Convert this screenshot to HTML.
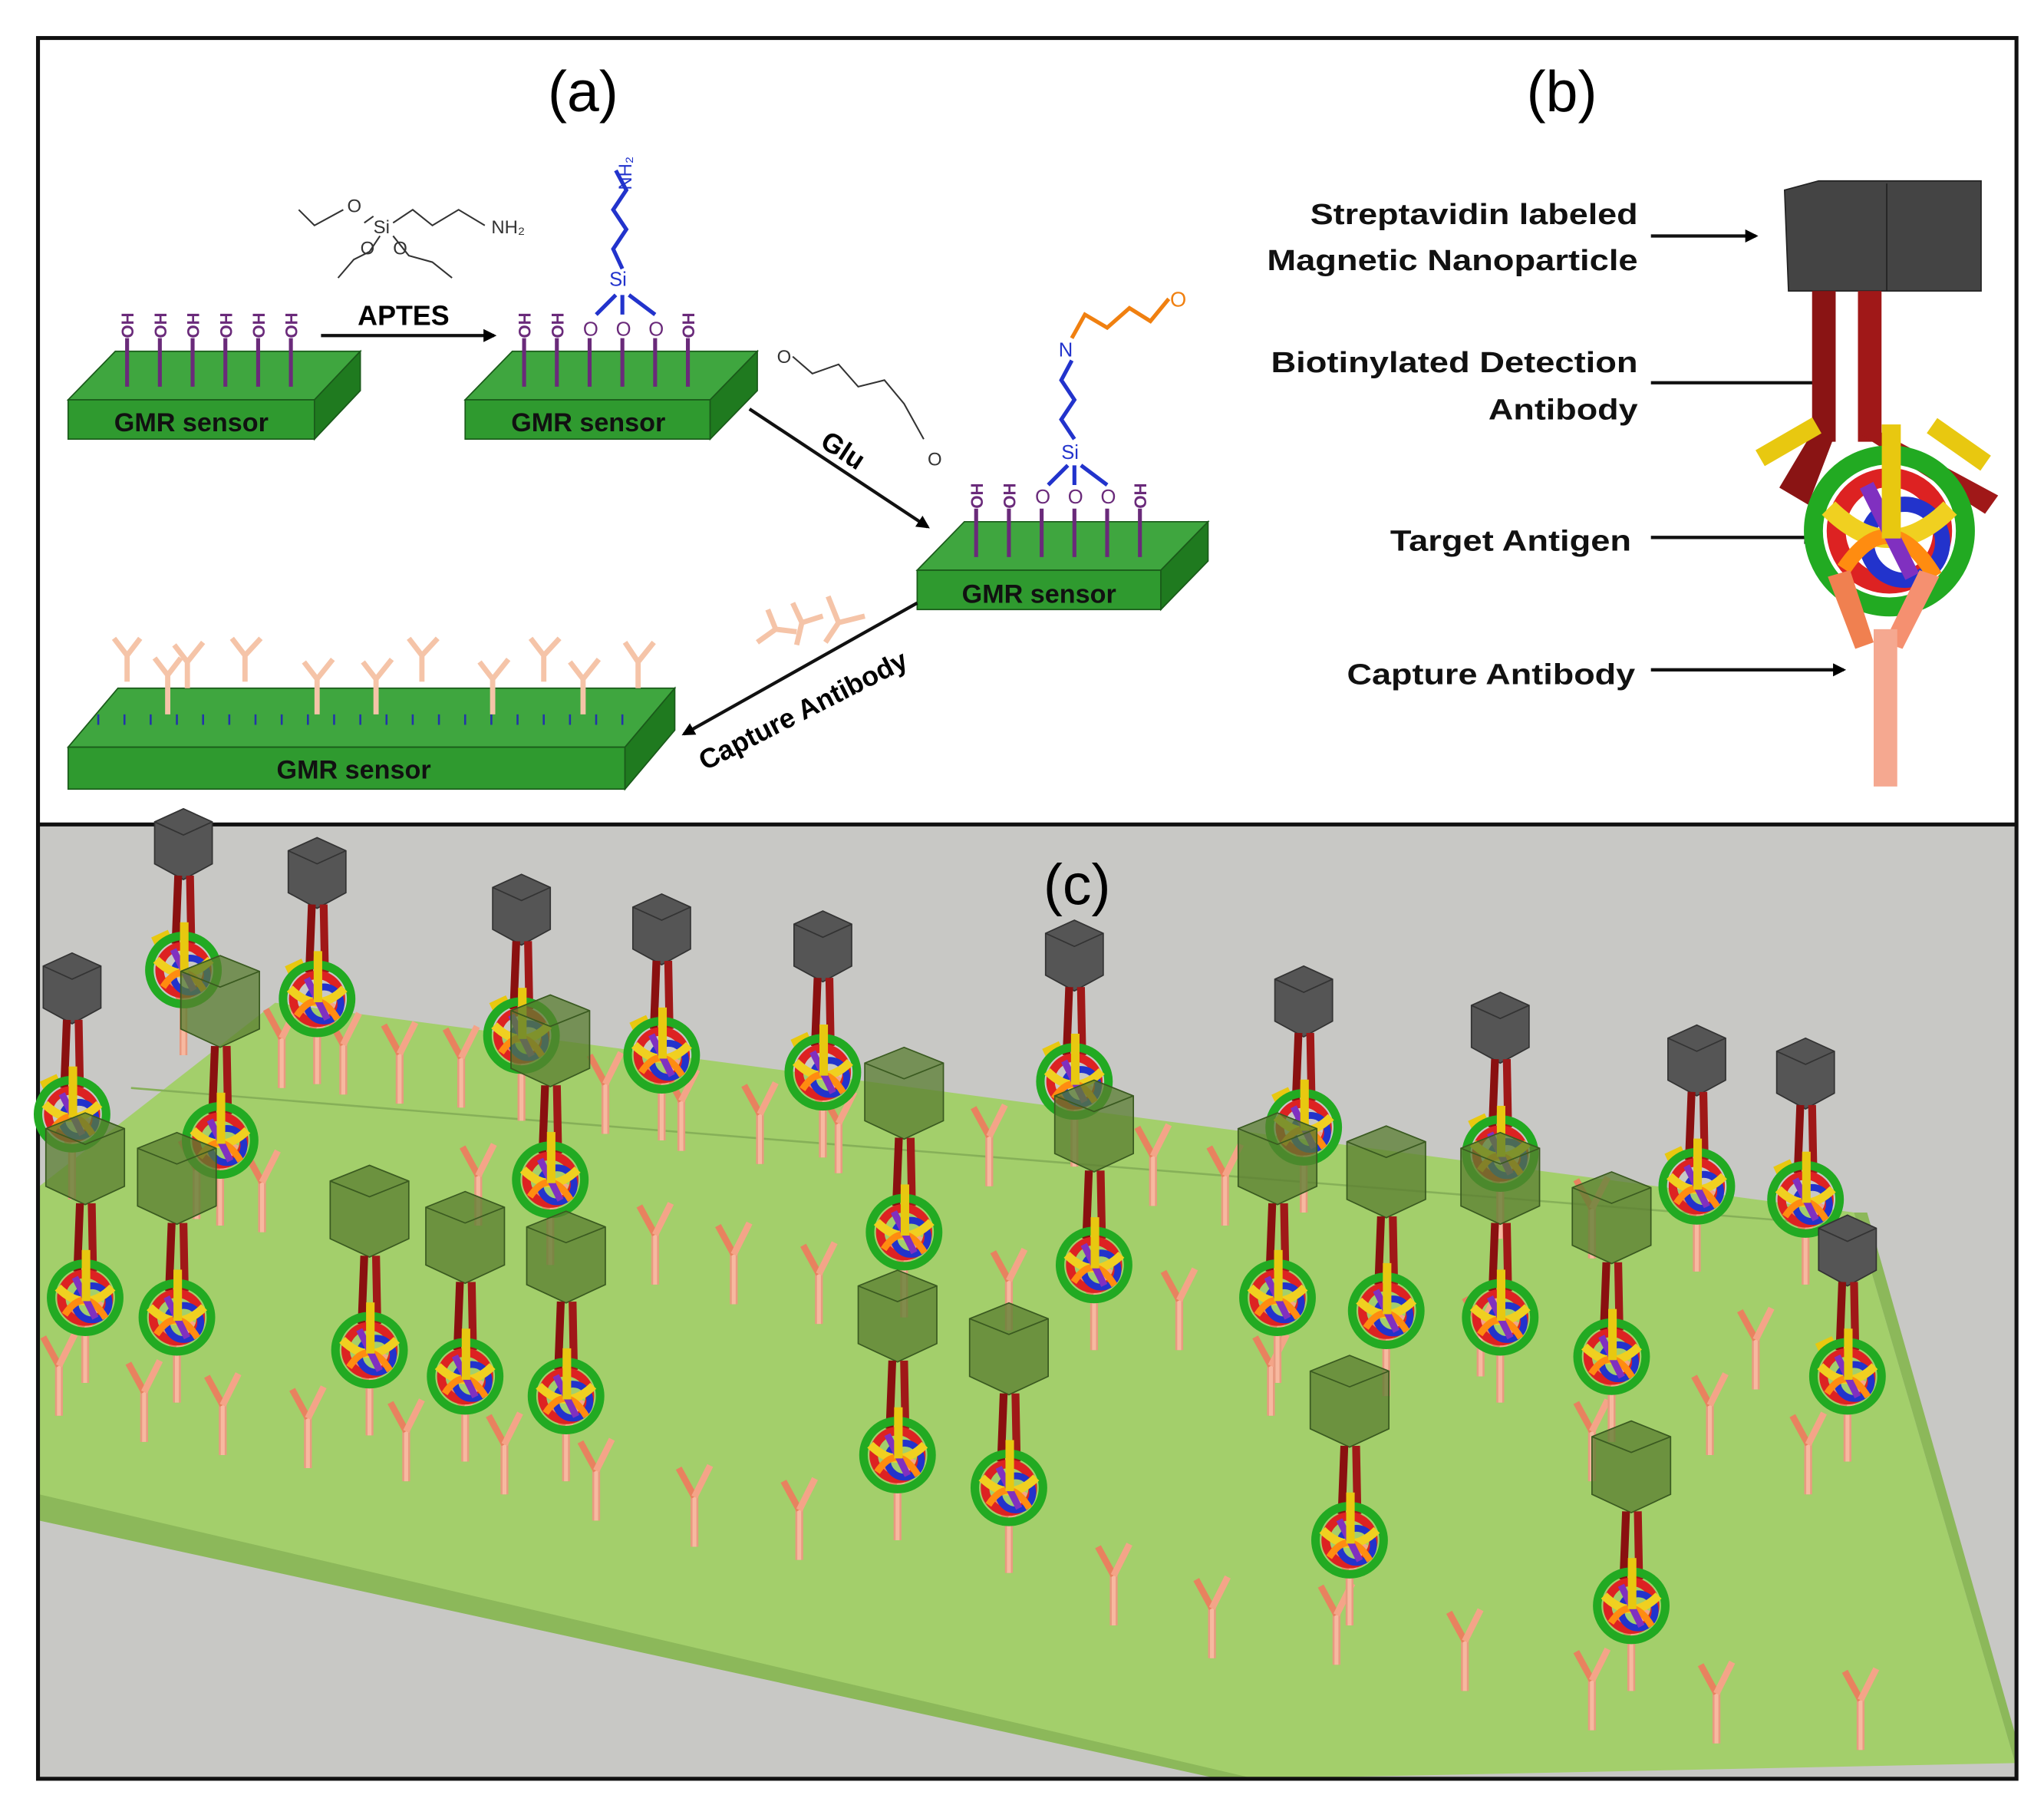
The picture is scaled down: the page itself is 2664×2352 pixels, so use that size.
<!DOCTYPE html>
<html><head><meta charset="utf-8"><style>
html,body{margin:0;padding:0;background:#fff}
svg{display:block}
text{font-family:"Liberation Sans",sans-serif}
</style></head><body>
<svg width="2664" height="2352" viewBox="0 0 1560 1377" preserveAspectRatio="none" xmlns="http://www.w3.org/2000/svg">
<defs>
<marker id="ar" markerWidth="10" markerHeight="10" refX="8" refY="5" orient="auto" markerUnits="userSpaceOnUse"><path d="M0,0 L10,5 L0,10 z" fill="#000"/></marker>
<g id="ab">
 <line x1="0" y1="0" x2="0" y2="-40" stroke="#e89a80" stroke-width="6"/>
 <line x1="0" y1="0" x2="0" y2="-40" stroke="#f7b9a0" stroke-width="3"/>
 <line x1="0" y1="-38" x2="-12" y2="-60" stroke="#e8825f" stroke-width="5"/>
 <line x1="0" y1="-38" x2="12" y2="-62" stroke="#f4a488" stroke-width="5"/>
</g>
<g id="ball">
 <circle r="20" fill="none" stroke="#22aa22" stroke-width="5"/>
 <circle r="14" fill="none" stroke="#dd2222" stroke-width="5"/>
 <circle cx="4" cy="3" r="10" fill="none" stroke="#2233cc" stroke-width="4"/>
 <path d="M-16,-6 Q0,10 16,-6" fill="none" stroke="#f0d020" stroke-width="5"/>
 <path d="M-12,10 Q0,-8 12,12" fill="none" stroke="#ff8c10" stroke-width="4"/>
 <line x1="-6" y1="-12" x2="6" y2="12" stroke="#8030c0" stroke-width="4"/>
 <rect x="-2" y="-28" width="5" height="30" fill="#e8c810"/>
</g>
<g id="cube">
 <polygon points="-22,-18 0,-28 22,-18 22,14 0,26 -22,14" fill="#555" stroke="#333" stroke-width="1"/>
 <polyline points="-22,-18 0,-8 22,-18 M0,-8 0,26" fill="none" stroke="#333"/>
</g>
<g id="gcube">
 <polygon points="-30,-24 0,-36 30,-24 30,20 0,34 -30,20" fill="#5a7d30" fill-opacity="0.75" stroke="#3a5a20"/>
 <polyline points="-30,-24 0,-12 30,-24 M0,-12 0,34" fill="none" stroke="#3a5a20"/>
</g>
<g id="cx">
 <use href="#cube" y="-95"/>
 <line x1="-4" y1="-72" x2="-6" y2="-20" stroke="#8a1010" stroke-width="6"/>
 <line x1="5" y1="-72" x2="6" y2="-20" stroke="#a01818" stroke-width="6"/>
 <rect x="-24" y="-28" width="14" height="7" fill="#e8c810" transform="rotate(-25 -17 -25)"/>
 <use href="#ab" y="65"/>
 <use href="#ball" transform="scale(1.3)"/>
</g>
<g id="cxg">
 <use href="#gcube" y="-105"/>
 <line x1="-4" y1="-72" x2="-6" y2="-20" stroke="#8a1010" stroke-width="6"/>
 <line x1="5" y1="-72" x2="6" y2="-20" stroke="#a01818" stroke-width="6"/>
 <use href="#ab" y="65"/>
 <use href="#ball" transform="scale(1.3)"/>
</g>
</defs>

<rect x="0" y="0" width="1560" height="1377" fill="#fff"/>
<rect x="29" y="630" width="1510" height="727" fill="#c8c8c5"/>
<polygon points="30,905 210,765 1415,925 1538,1345 958,1357 30,1160" fill="#a3cf6b"/>
<polygon points="30,1140 958,1357 930,1357 30,1160" fill="#8cb85a"/>
<polygon points="1415,925 1425,925 1540,1330 1538,1345" fill="#8cb85a"/>
<line x1="100" y1="830" x2="1410" y2="935" stroke="#86b058" stroke-width="1.5"/>

<rect x="29" y="29" width="1510" height="1328" fill="none" stroke="#111" stroke-width="3"/>
<line x1="29" y1="629" x2="1539" y2="629" stroke="#111" stroke-width="3"/>

<text x="445" y="85" font-size="44" text-anchor="middle">(a)</text>
<text x="1192" y="85" font-size="44" text-anchor="middle">(b)</text>
<text x="822" y="690" font-size="44" text-anchor="middle">(c)</text>

<g stroke="#1a5a1a" stroke-width="1">
 <polygon points="52,305 88,268 275,268 240,305" fill="#3fa63f"/>
 <rect x="52" y="305" width="188" height="30" fill="#2f9a2f"/>
 <polygon points="240,305 275,268 275,298 240,335" fill="#1f7a1f"/>
 <polygon points="355,305 391,268 578,268 542,305" fill="#3fa63f"/>
 <rect x="355" y="305" width="187" height="30" fill="#2f9a2f"/>
 <polygon points="542,305 578,268 578,298 542,335" fill="#1f7a1f"/>
 <polygon points="700,435 736,398 922,398 886,435" fill="#3fa63f"/>
 <rect x="700" y="435" width="186" height="30" fill="#2f9a2f"/>
 <polygon points="886,435 922,398 922,428 886,465" fill="#1f7a1f"/>
 <polygon points="52,570 90,525 515,525 477,570" fill="#3fa63f"/>
 <rect x="52" y="570" width="425" height="32" fill="#2f9a2f"/>
 <polygon points="477,570 515,525 515,557 477,602" fill="#1f7a1f"/>
</g>
<g font-size="20" font-weight="bold" fill="#111" text-anchor="middle">
 <text x="146" y="329">GMR sensor</text>
 <text x="449" y="329">GMR sensor</text>
 <text x="793" y="460">GMR sensor</text>
 <text x="270" y="594">GMR sensor</text>
</g>
<g stroke="#6a2a7a" stroke-width="3">
 <path d="M97,258V295 M122,258V295 M147,258V295 M172,258V295 M197,258V295 M222,258V295"/>
 <path d="M400,258V295 M425,258V295 M450,258V295 M475,258V295 M500,258V295 M525,258V295"/>
 <path d="M745,388V425 M770,388V425 M795,388V425 M820,388V425 M845,388V425 M870,388V425"/>
</g>
<g font-size="13" fill="#6a2a7a" font-weight="bold">
 <text transform="translate(102,258) rotate(-90)">OH</text>
 <text transform="translate(127,258) rotate(-90)">OH</text>
 <text transform="translate(152,258) rotate(-90)">OH</text>
 <text transform="translate(177,258) rotate(-90)">OH</text>
 <text transform="translate(202,258) rotate(-90)">OH</text>
 <text transform="translate(227,258) rotate(-90)">OH</text>
 <text transform="translate(405,258) rotate(-90)">OH</text>
 <text transform="translate(430,258) rotate(-90)">OH</text>
 <text transform="translate(530,258) rotate(-90)">OH</text>
 <text transform="translate(750,388) rotate(-90)">OH</text>
 <text transform="translate(775,388) rotate(-90)">OH</text>
 <text transform="translate(875,388) rotate(-90)">OH</text>
</g>
<g font-size="15" fill="#6a2a7a"><text x="445" y="256">O</text><text x="470" y="256">O</text><text x="495" y="256">O</text>
<text x="790" y="384">O</text><text x="815" y="384">O</text><text x="840" y="384">O</text></g>
<g stroke="#2233cc" stroke-width="3" fill="none">
 <path d="M470,225 L455,240 M475,225 L475,240 M480,225 L500,240"/>
 <path d="M475,205 L468,190 L478,175 L468,160 L478,145 L470,130"/>
 <path d="M815,355 L800,370 M820,355 L820,370 M825,355 L845,370"/>
 <path d="M820,335 L810,320 L820,305 L810,290 L818,275"/>
</g>
<text x="465" y="218" font-size="15" fill="#2233cc">Si</text>
<text x="810" y="350" font-size="15" fill="#2233cc">Si</text>
<text transform="translate(482,145) rotate(-90)" font-size="14" fill="#2233cc">NH₂</text>
<text x="808" y="272" font-size="15" fill="#2233cc">N</text>
<path d="M818,258 L828,240 L845,250 L862,235 L878,245 L892,228" stroke="#f08010" stroke-width="3" fill="none"/>
<text x="893" y="234" font-size="16" fill="#f08010">O</text>
<g stroke="#333" stroke-width="1.2" fill="none">
 <path d="M228,160 L240,172 L262,160 M278,170 L285,165 M300,170 L315,160 L330,172 L350,160 L370,172 M290,180 L282,192 L270,198 L258,212 M300,180 L312,195 L330,200 L345,212"/>
</g>
<text x="265" y="162" font-size="14" fill="#333">O</text>
<text x="285" y="178" font-size="14" fill="#333">Si</text>
<text x="275" y="194" font-size="14" fill="#333">O</text>
<text x="300" y="194" font-size="14" fill="#333">O</text>
<text x="375" y="178" font-size="14" fill="#333">NH₂</text>
<path d="M605,272 L620,285 L640,278 L655,295 L675,290 L690,308 L705,335" stroke="#333" stroke-width="1.2" fill="none"/>
<text x="593" y="277" font-size="14" fill="#333">O</text>
<text x="708" y="355" font-size="14" fill="#333">O</text>
<g stroke="#111" stroke-width="2.5" fill="none" marker-end="url(#ar)">
 <line x1="245" y1="256" x2="377" y2="256"/>
 <line x1="572" y1="312" x2="708" y2="402"/>
 <line x1="700" y1="460" x2="522" y2="560"/>
</g>
<text x="308" y="248" font-size="21" font-weight="bold" text-anchor="middle">APTES</text>
<text transform="translate(625,340) rotate(33)" font-size="21" font-weight="bold">Glu</text>
<text transform="translate(538,588) rotate(-27)" font-size="21" font-weight="bold">Capture Antibody</text>
<g stroke="#2233aa" stroke-width="1.5">
 <path d="M75,545v8 M95,545v8 M115,545v8 M135,545v8 M155,545v8 M175,545v8 M195,545v8 M215,545v8 M235,545v8 M255,545v8 M275,545v8 M295,545v8 M315,545v8 M335,545v8 M355,545v8 M375,545v8 M395,545v8 M415,545v8 M435,545v8 M455,545v8 M475,545v8"/>
</g>
<g stroke="#f5c4a8" stroke-width="4" fill="none">
 <path d="M97,520V500L87,487M97,500L107,487"/>
 <path d="M128,545V515L118,502M128,515L138,502"/>
 <path d="M143,525V505L133,492M143,505L155,490"/>
 <path d="M187,520V500L177,487M187,500L199,487"/>
 <path d="M242,545V518L232,505M242,518L254,503"/>
 <path d="M287,545V518L277,505M287,518L299,503"/>
 <path d="M322,520V500L312,487M322,500L334,487"/>
 <path d="M376,545V518L366,505M376,518L388,503"/>
 <path d="M415,520V500L405,487M415,500L427,487"/>
 <path d="M445,545V518L435,505M445,518L457,503"/>
 <path d="M487,525V505L477,490M487,505L499,490"/>
 <path d="M578,490L592,480L586,465M592,480L608,482"/>
 <path d="M605,460L612,475L628,470M612,475L608,492"/>
 <path d="M630,490L640,475L632,455M640,475L660,470"/>
</g>

<g font-size="22" font-weight="bold" fill="#111" text-anchor="end">
 <text x="1250" y="171" textLength="250" lengthAdjust="spacingAndGlyphs">Streptavidin labeled</text>
 <text x="1250" y="206" textLength="283" lengthAdjust="spacingAndGlyphs">Magnetic Nanoparticle</text>
 <text x="1250" y="284" textLength="280" lengthAdjust="spacingAndGlyphs">Biotinylated Detection</text>
 <text x="1250" y="320" textLength="114" lengthAdjust="spacingAndGlyphs">Antibody</text>
 <text x="1245" y="420" textLength="184" lengthAdjust="spacingAndGlyphs">Target Antigen</text>
 <text x="1248" y="522" textLength="220" lengthAdjust="spacingAndGlyphs">Capture Antibody</text>
</g>
<g stroke="#111" stroke-width="2.5" marker-end="url(#ar)">
 <line x1="1260" y1="180" x2="1340" y2="180"/>
 <line x1="1260" y1="292" x2="1392" y2="292"/>
 <line x1="1260" y1="410" x2="1385" y2="410"/>
 <line x1="1260" y1="511" x2="1407" y2="511"/>
</g>
<polygon points="1362,145 1388,138 1512,138 1512,222 1365,222" fill="#444" stroke="#222"/>
<line x1="1440" y1="140" x2="1440" y2="222" stroke="#222"/>
<rect x="1383" y="222" width="18" height="115" fill="#8a1414"/>
<rect x="1418" y="222" width="18" height="115" fill="#a01818"/>
<polygon points="1383,330 1401,330 1380,385 1358,372" fill="#8a1414"/>
<polygon points="1418,330 1436,330 1525,378 1515,392" fill="#a01818"/>
<rect x="1340" y="330" width="50" height="14" fill="#e8c810" transform="rotate(-30 1365 337)"/>
<rect x="1470" y="332" width="50" height="14" fill="#e8c810" transform="rotate(35 1495 339)"/>
<g transform="translate(1442,405) scale(2.9)"><use href="#ball"/></g>
<polygon points="1395,440 1412,435 1430,490 1416,495" fill="#f08050"/>
<polygon points="1480,440 1465,435 1438,490 1452,495" fill="#f59070"/>
<rect x="1430" y="480" width="18" height="120" fill="#f5a890"/>

<g>
 <use href="#ab" x="215" y="830"/><use href="#ab" x="262" y="835"/><use href="#ab" x="305" y="842"/>
 <use href="#ab" x="352" y="845"/><use href="#ab" x="462" y="865"/><use href="#ab" x="520" y="878"/>
 <use href="#ab" x="580" y="888"/><use href="#ab" x="640" y="895"/><use href="#ab" x="755" y="905"/>
 <use href="#ab" x="880" y="920"/><use href="#ab" x="935" y="935"/><use href="#ab" x="1215" y="960"/>
 <use href="#ab" x="150" y="930"/><use href="#ab" x="200" y="940"/><use href="#ab" x="365" y="935"/>
 <use href="#ab" x="500" y="980"/><use href="#ab" x="560" y="995"/><use href="#ab" x="625" y="1010"/>
 <use href="#ab" x="770" y="1015"/><use href="#ab" x="900" y="1030"/><use href="#ab" x="1130" y="1050"/>
 <use href="#ab" x="1340" y="1060"/>
 <use href="#ab" x="45" y="1080"/><use href="#ab" x="110" y="1100"/><use href="#ab" x="170" y="1110"/>
 <use href="#ab" x="235" y="1120"/><use href="#ab" x="310" y="1130"/><use href="#ab" x="385" y="1140"/>
 <use href="#ab" x="455" y="1160"/><use href="#ab" x="530" y="1180"/><use href="#ab" x="610" y="1190"/>
 <use href="#ab" x="850" y="1240"/><use href="#ab" x="925" y="1265"/><use href="#ab" x="970" y="1080"/>
 <use href="#ab" x="1215" y="1130"/><use href="#ab" x="1305" y="1110"/>
 <use href="#ab" x="1118" y="1290"/><use href="#ab" x="1215" y="1320"/><use href="#ab" x="1310" y="1330"/>
 <use href="#ab" x="1420" y="1335"/><use href="#ab" x="1020" y="1270"/><use href="#ab" x="1380" y="1140"/>
</g>
<use href="#cx" x="140" y="740"/>
<use href="#cx" x="242" y="762"/>
<use href="#cx" x="398" y="790"/>
<use href="#cx" x="505" y="805"/>
<use href="#cx" x="628" y="818"/>
<use href="#cx" x="820" y="825"/>
<use href="#cx" x="995" y="860"/>
<use href="#cx" x="1145" y="880"/>
<use href="#cx" x="1295" y="905"/>
<use href="#cx" x="1378" y="915"/>
<use href="#cx" x="55" y="850"/>
<use href="#cx" x="1410" y="1050"/>
<use href="#cxg" x="168" y="870"/>
<use href="#cxg" x="420" y="900"/>
<use href="#cxg" x="690" y="940"/>
<use href="#cxg" x="835" y="965"/>
<use href="#cxg" x="65" y="990"/>
<use href="#cxg" x="135" y="1005"/>
<use href="#cxg" x="282" y="1030"/>
<use href="#cxg" x="355" y="1050"/>
<use href="#cxg" x="432" y="1065"/>
<use href="#cxg" x="975" y="990"/>
<use href="#cxg" x="1058" y="1000"/>
<use href="#cxg" x="1145" y="1005"/>
<use href="#cxg" x="1230" y="1035"/>
<use href="#cxg" x="685" y="1110"/>
<use href="#cxg" x="770" y="1135"/>
<use href="#cxg" x="1030" y="1175"/>
<use href="#cxg" x="1245" y="1225"/>
</svg>
</body></html>
